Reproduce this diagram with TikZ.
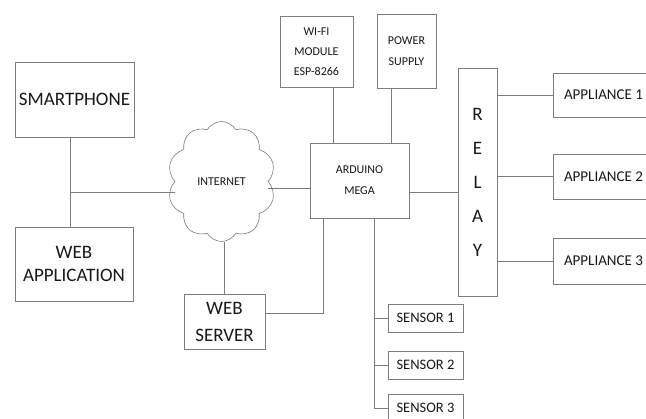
\documentclass[tikz,border=0pt]{standalone}
\usepackage{fontspec}
\setmainfont{Carlito}
\usetikzlibrary{shapes.symbols}
\definecolor{linegray}{RGB}{125,125,125}
\definecolor{textdark}{RGB}{25,25,25}
\tikzset{
  blk/.style={draw=linegray, line width=0.7pt, text=textdark, align=center, inner sep=1pt},
  bigblk/.style={blk, font=\fontsize{19}{23}\selectfont},
  midblk/.style={blk, font=\fontsize{15}{18}\selectfont},
  smallblk/.style={blk, font=\fontsize{12}{20}\selectfont},
  wire/.style={draw=linegray, line width=0.7pt}
}
\begin{document}
\begin{tikzpicture}[x=1pt, y=-1pt]
    \clip (0,0) rectangle (646,419);
    \fill[white] (0,0) rectangle (646,419);

    % left side
    \node[bigblk, minimum width=119pt, minimum height=75pt] (smart) at (74.5,99.5) {SMARTPHONE};
    \node[bigblk, minimum width=118pt, minimum height=74pt] (webapp) at (74,264) {WEB\\APPLICATION};
    \node[cloud, draw=linegray, line width=0.6pt, cloud puffs=10, cloud puff arc=120, aspect=0.9,
          minimum width=108pt, minimum height=120pt, inner sep=0pt,
          text=textdark, font=\fontsize{12}{14}\selectfont] (cloud) at (221.5,181.5) {INTERNET};
    \node[bigblk, minimum width=81pt, minimum height=55pt, font=\fontsize{19}{27}\selectfont] (server) at (224.5,321.5) {WEB\\SERVER};

    % controller
    \node[smallblk, minimum width=73pt, minimum height=71pt] (wifi) at (316.5,51.5) {WI-FI\\MODULE\\ESP-8266};
    \node[smallblk, minimum width=59pt, minimum height=74pt, font=\fontsize{12}{21}\selectfont] (power) at (406.5,51) {POWER\\SUPPLY};
    \node[smallblk, minimum width=99pt, minimum height=75pt, font=\fontsize{12}{21}\selectfont] (arduino) at (359.5,180.5) {ARDUINO\\MEGA};
    \node[blk, minimum width=39pt, minimum height=228pt, font=\fontsize{19}{34}\selectfont] (relay) at (477.5,182) {R\\E\\L\\A\\Y};

    % outputs
    \node[midblk, minimum width=107pt, minimum height=44pt] (app1) at (606.5,95) {APPLIANCE 1\hspace{6pt}};
    \node[midblk, minimum width=107pt, minimum height=45pt] (app2) at (606.5,176.5) {APPLIANCE 2\hspace{6pt}};
    \node[midblk, minimum width=107pt, minimum height=46pt] (app3) at (606.5,261) {APPLIANCE 3\hspace{6pt}};

    % sensors
    \node[smallblk, minimum width=75pt, minimum height=28pt, font=\fontsize{14.5}{17}\selectfont] (sen1) at (425.5,318) {SENSOR 1};
    \node[smallblk, minimum width=75pt, minimum height=28pt, font=\fontsize{14.5}{17}\selectfont] (sen2) at (425.5,365) {SENSOR 2};
    \node[smallblk, minimum width=75pt, minimum height=28pt, font=\fontsize{14.5}{17}\selectfont] (sen3) at (425.5,408) {SENSOR 3};

    % junction points
    \coordinate (jleft) at (70,192);
    \coordinate (jnet) at (0,188);
    \coordinate (jrel) at (0,192);
    \coordinate (jsrv) at (323,313);
    \coordinate (jwifi) at (333,0);
    \coordinate (jpow) at (391,0);
    \coordinate (jbus) at (374,0);

    \draw[wire] (smart.south -| jleft) -- (webapp.north -| jleft);
    \draw[wire] (jleft) -- (jleft -| cloud.west);
    \draw[wire] (cloud.east |- jnet) -- (arduino.west |- jnet);
    \draw[wire] (server.north) -- (server.north |- cloud.south);
    \draw[wire] (server.east |- jsrv) -| (arduino.south -| jsrv);
    \draw[wire] (wifi.south -| jwifi) -- (arduino.north -| jwifi);
    \draw[wire] (power.south -| jpow) -- (arduino.north -| jpow);
    \draw[wire] (arduino.east |- jrel) -- (relay.west |- jrel);
    \draw[wire] (relay.east |- app1.west) -- (app1.west);
    \draw[wire] (relay.east |- app2.west) -- (app2.west);
    \draw[wire] (relay.east |- app3.west) -- (app3.west);
    \draw[wire] (arduino.south -| jbus) |- (sen3.west);
    \draw[wire] (sen1.west -| jbus) -- (sen1.west);
    \draw[wire] (sen2.west -| jbus) -- (sen2.west);
\end{tikzpicture}
\end{document}
